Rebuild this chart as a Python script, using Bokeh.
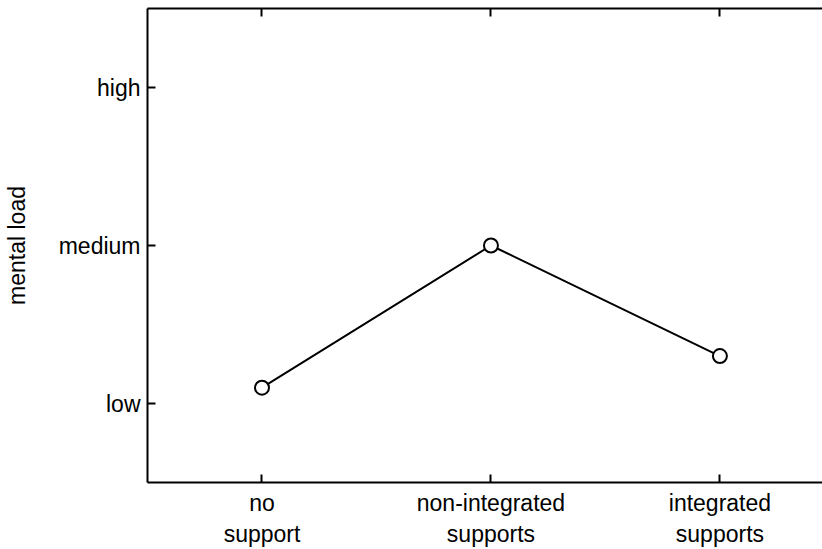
from bokeh.plotting import figure
from bokeh.models import LinearAxis, FixedTicker, Range1d
from bokeh.embed import file_html
from bokeh.resources import INLINE

categories = ["no\nsupport", "non-integrated\nsupports", "integrated\nsupports"]
level_labels = ["low", "medium", "high"]
mental_load = [1.1, 2.0, 1.3]

xs = list(range(1, len(categories) + 1))
ys_ticks = list(range(1, len(level_labels) + 1))

p = figure(width=822, height=549, output_backend="svg", toolbar_location=None,
           x_range=Range1d(0.5, 3.448), y_range=Range1d(0.5, 3.5),
           x_axis_type=None, y_axis_type=None,
           min_border_left=144, min_border_right=0, min_border_top=8, min_border_bottom=63)
p.outline_line_color = None
p.xgrid.visible = False
p.ygrid.visible = False
p.background_fill_color = "white"
p.border_fill_color = "white"

font = "Liberation Sans"

xb = LinearAxis(ticker=FixedTicker(ticks=xs),
                major_label_overrides={x: c for x, c in zip(xs, categories)})
ya = LinearAxis(ticker=FixedTicker(ticks=ys_ticks),
                major_label_overrides={y: l for y, l in zip(ys_ticks, level_labels)},
                axis_label="mental load")
xt = LinearAxis(ticker=FixedTicker(ticks=xs))

for ax in (xb, ya, xt):
    ax.axis_line_width = 2
    ax.axis_line_color = "black"
    ax.major_tick_line_width = 2
    ax.major_tick_line_color = "black"
    ax.major_tick_in = 8
    ax.major_tick_out = 0
    ax.minor_tick_line_color = None
    ax.major_label_text_font = font
    ax.major_label_text_font_size = "23px"
    ax.major_label_text_color = "black"
    ax.major_label_standoff = 7

xt.major_label_text_color = None
xt.major_label_text_font_size = "0px"

ya.axis_label_text_font = font
ya.axis_label_text_font_size = "23px"
ya.axis_label_text_font_style = "normal"
ya.axis_label_text_color = "black"
ya.axis_label_standoff = 26
xb.major_label_standoff = 7

p.add_layout(xb, "below")
p.add_layout(ya, "left")
p.add_layout(xt, "above")

p.line(xs, mental_load, line_color="black", line_width=2)
p.scatter(xs, mental_load, size=14, fill_color="white", line_color="black", line_width=2)

open("out.html", "w").write(file_html(p, INLINE))
